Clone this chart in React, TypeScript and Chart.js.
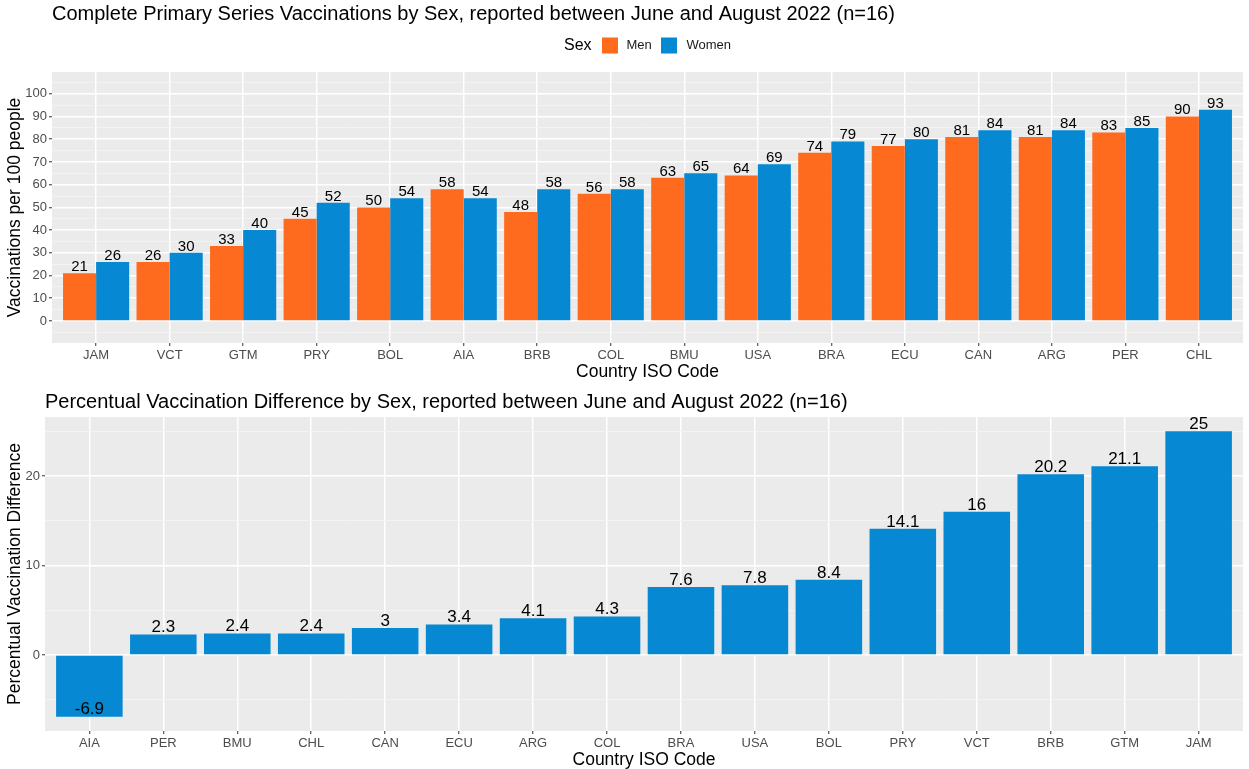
import React, { useEffect, useRef } from 'react';
import { Chart, registerables } from 'chart.js';

Chart.register(...registerables);

const FONT = '"Liberation Sans", Arial, sans-serif';

// ---- Top panel data ----
const topTitle = 'Complete Primary Series Vaccinations by Sex, reported between June and August 2022 (n=16)';
const countries = ['JAM', 'VCT', 'GTM', 'PRY', 'BOL', 'AIA', 'BRB', 'COL', 'BMU', 'USA', 'BRA', 'ECU', 'CAN', 'ARG', 'PER', 'CHL'];
const menValues = [21, 26, 33, 45, 50, 58, 48, 56, 63, 64, 74, 77, 81, 81, 83, 90];
const womenValues = [26, 30, 40, 52, 54, 54, 58, 58, 65, 69, 79, 80, 84, 84, 85, 93];
const seriesNames = ['Men', 'Women'];
const legendTitle = 'Sex';
const topYTicks = [-5, 0, 5, 10, 15, 20, 25, 30, 35, 40, 45, 50, 55, 60, 65, 70, 75, 80, 85, 90, 95, 100, 105];
const topYTitle = 'Vaccinations per 100 people';

// ---- Bottom panel data ----
const bottomTitle = 'Percentual Vaccination Difference by Sex, reported between June and August 2022 (n=16)';
const diffCountries = ['AIA', 'PER', 'BMU', 'CHL', 'CAN', 'ECU', 'ARG', 'COL', 'BRA', 'USA', 'BOL', 'PRY', 'VCT', 'BRB', 'GTM', 'JAM'];
const diffValues = [-6.9, 2.3, 2.4, 2.4, 3, 3.4, 4.1, 4.3, 7.6, 7.8, 8.4, 14.1, 16, 20.2, 21.1, 25];
const bottomYTicks = [-5, 0, 5, 10, 15, 20, 25];
const bottomYTitle = 'Percentual Vaccination Difference';

const xTitle = 'Country ISO Code';

const ORANGE = '#FE6A1E';
const BLUE = '#0788D2';
const PANEL = '#EBEBEB';
const AXIS_TITLE_SIZE = 17.5;

const isMajor = (v: number) => v % 10 === 0;

function panelPlugin(title: string, titleBaseline: number, labelSize: number, legend: boolean) {
  return {
    id: 'panelDecor',
    beforeDraw(chart: any) {
      const { ctx, chartArea } = chart;
      ctx.save();
      ctx.fillStyle = PANEL;
      ctx.fillRect(chartArea.left, chartArea.top, chartArea.right - chartArea.left, chartArea.bottom - chartArea.top);
      ctx.restore();
    },
    afterDatasetsDraw(chart: any) {
      const { ctx } = chart;
      ctx.save();
      ctx.fillStyle = '#000';
      ctx.font = `${labelSize}px ${FONT}`;
      ctx.textAlign = 'center';
      ctx.textBaseline = 'alphabetic';
      chart.data.datasets.forEach((ds: any, di: number) => {
        const meta = chart.getDatasetMeta(di);
        meta.data.forEach((el: any, i: number) => {
          const v = ds.data[i].y;
          ctx.fillText(String(v), el.x, el.y - 2.2);
        });
      });
      ctx.restore();
    },
    afterDraw(chart: any) {
      const { ctx, chartArea } = chart;
      ctx.save();
      ctx.fillStyle = '#000';
      ctx.font = `20px ${FONT}`;
      ctx.textAlign = 'left';
      ctx.textBaseline = 'alphabetic';
      ctx.fillText(title, chartArea.left, titleBaseline);
      if (legend) {
        const cy = 45.5;
        ctx.textBaseline = 'middle';
        ctx.font = `16px ${FONT}`;
        ctx.fillStyle = '#000';
        ctx.fillText(legendTitle, 564, cy);
        const colors = [ORANGE, BLUE];
        const boxX = [602, 661];
        const txtX = [626.5, 686.5];
        ctx.font = `13px ${FONT}`;
        seriesNames.forEach((name, i) => {
          ctx.fillStyle = colors[i];
          ctx.fillRect(boxX[i], cy - 8, 16, 16);
          ctx.fillStyle = '#1A1A1A';
          ctx.fillText(name, txtX[i], cy);
        });
      }
      ctx.restore();
    },
  };
}

function xScale(labels: string[], titlePadBottom: number, height: number) {
  return {
    type: 'linear',
    min: -0.6,
    max: labels.length - 1 + 0.6,
    offset: false,
    bounds: 'data',
    afterBuildTicks: (scale: any) => {
      scale.ticks = labels.map((_, i) => ({ value: i }));
    },
    afterFit: (scale: any) => {
      scale.height = height;
    },
    grid: {
      offset: false,
      color: '#FFFFFF',
      lineWidth: 1.5,
      tickColor: '#333333',
      tickLength: 3,
      tickWidth: 1,
    },
    border: { display: false },
    ticks: {
      autoSkip: false,
      maxRotation: 0,
      minRotation: 0,
      padding: 2,
      color: '#4D4D4D',
      font: { size: 13, family: FONT },
      callback: (v: number) => labels[v] ?? '',
    },
    title: {
      display: true,
      text: xTitle,
      color: '#000',
      font: { size: AXIS_TITLE_SIZE, family: FONT },
      padding: { top: 0, bottom: titlePadBottom },
    },
  };
}

function yScale(min: number, max: number, tickVals: number[], title: string, width: number) {
  return {
    type: 'linear',
    min,
    max,
    bounds: 'data',
    beginAtZero: false,
    afterBuildTicks: (scale: any) => {
      scale.ticks = tickVals.map((v) => ({ value: v }));
    },
    afterFit: (scale: any) => {
      scale.width = width;
    },
    grid: {
      color: (c: any) => (c.tick && isMajor(c.tick.value) ? '#FFFFFF' : '#F5F5F5'),
      lineWidth: (c: any) => (c.tick && isMajor(c.tick.value) ? 1.5 : 0.8),
      tickColor: (c: any) => (c.tick && isMajor(c.tick.value) ? '#333333' : 'rgba(0,0,0,0)'),
      tickLength: 3,
      tickWidth: 1,
    },
    border: { display: false },
    ticks: {
      autoSkip: false,
      padding: 2,
      color: '#4D4D4D',
      font: { size: 13, family: FONT },
      callback: (v: number) => (isMajor(v) ? String(v) : ''),
    },
    title: {
      display: true,
      text: title,
      color: '#000',
      font: { size: AXIS_TITLE_SIZE, family: FONT },
      padding: { top: 5, bottom: 0 },
    },
  };
}

export default function App() {
  const topRef = useRef<HTMLCanvasElement | null>(null);
  const bottomRef = useRef<HTMLCanvasElement | null>(null);

  useEffect(() => {
    document.body.style.margin = '0';
    Chart.defaults.font.family = FONT;

    const top = new Chart(topRef.current as HTMLCanvasElement, {
      type: 'bar',
      data: {
        datasets: [
          {
            label: seriesNames[0],
            data: menValues.map((v, i) => ({ x: i, y: v })),
            backgroundColor: ORANGE,
            borderWidth: 0,
            categoryPercentage: 0.9,
            barPercentage: 1,
          },
          {
            label: seriesNames[1],
            data: womenValues.map((v, i) => ({ x: i, y: v })),
            backgroundColor: BLUE,
            borderWidth: 0,
            categoryPercentage: 0.9,
            barPercentage: 1,
          },
        ],
      } as any,
      options: {
        responsive: false,
        animation: false,
        devicePixelRatio: 1,
        layout: { padding: { top: 72, right: 6, bottom: 0, left: 0 } },
        plugins: { legend: { display: false }, tooltip: { enabled: false }, title: { display: false } },
        scales: {
          x: xScale(countries, 2.5, 42),
          y: yScale(-9.7, 109.6, topYTicks, topYTitle, 52),
        } as any,
      },
      plugins: [panelPlugin(topTitle, 20, 15, true)],
    });

    const bottom = new Chart(bottomRef.current as HTMLCanvasElement, {
      type: 'bar',
      data: {
        datasets: [
          {
            label: 'Difference',
            data: diffValues.map((v, i) => ({ x: i, y: v })),
            backgroundColor: BLUE,
            borderWidth: 0,
            categoryPercentage: 0.9,
            barPercentage: 1,
          },
        ],
      } as any,
      options: {
        responsive: false,
        animation: false,
        devicePixelRatio: 1,
        layout: { padding: { top: 32, right: 6, bottom: 0, left: 0 } },
        plugins: { legend: { display: false }, tooltip: { enabled: false }, title: { display: false } },
        scales: {
          x: xScale(diffCountries, -1.5, 38),
          y: yScale(-8.5, 26.6, bottomYTicks, bottomYTitle, 45),
        } as any,
      },
      plugins: [panelPlugin(bottomTitle, 22.5, 17, false)],
    });

    return () => {
      top.destroy();
      bottom.destroy();
    };
  }, []);

  return (
    <div style={{ position: 'absolute', left: 0, top: 0, width: 1249, height: 769, background: '#fff' }}>
      <canvas ref={topRef} width={1249} height={385} style={{ display: 'block', width: 1249, height: 385 }} />
      <canvas ref={bottomRef} width={1249} height={384} style={{ display: 'block', width: 1249, height: 384 }} />
    </div>
  );
}
